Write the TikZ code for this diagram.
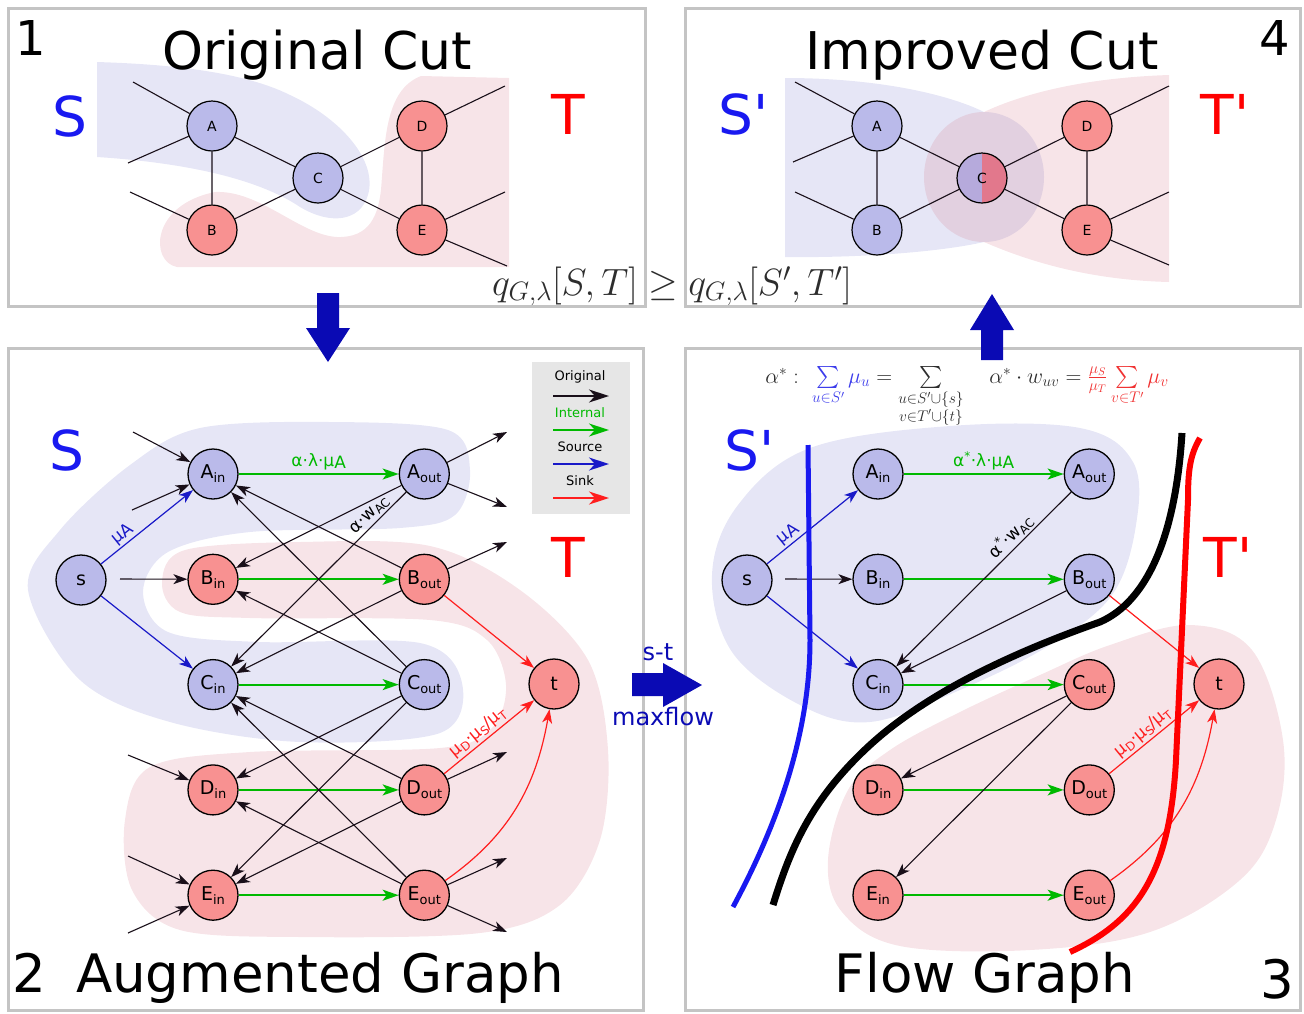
\RequirePackage{fix-cm}
\documentclass[tikz,border=0pt]{standalone}
\usepackage{amsmath,amssymb}
\usepackage[no-math]{fontspec}
\setmainfont{DejaVu Sans}[Ligatures=TeXOff]
\usepackage{tikz}
\usetikzlibrary{arrows.meta,positioning,calc}
\definecolor{nodeblue}{RGB}{186,186,234}
\definecolor{nodered}{RGB}{248,145,145}
\definecolor{sregion}{RGB}{230,230,246}
\definecolor{tregion}{RGB}{247,228,232}
\definecolor{overlap}{RGB}{226,208,224}
\definecolor{cleft}{RGB}{182,170,220}
\definecolor{cright}{RGB}{226,120,140}
\definecolor{framegray}{RGB}{196,196,196}
\definecolor{edgeblack}{RGB}{25,15,25}
\definecolor{intgreen}{RGB}{0,185,0}
\definecolor{srcblue}{RGB}{25,25,200}
\definecolor{sinkred}{RGB}{255,30,30}
\definecolor{setblue}{RGB}{25,25,240}
\definecolor{setred}{RGB}{255,0,0}
\definecolor{bigarrow}{RGB}{10,10,180}
\definecolor{legendbg}{RGB}{230,230,230}
\definecolor{mathgray}{RGB}{45,45,45}
\definecolor{sumblue}{RGB}{60,60,235}
\definecolor{sumred}{RGB}{240,50,50}
\newcommand{\io}[2]{#1\raisebox{-4pt}{\fontsize{13}{13}\selectfont #2}}
\newcommand{\lowsub}[1]{\raisebox{-3pt}{\fontsize{12}{12}\selectfont #1}}

\begin{document}
\begin{tikzpicture}[x=1pt, y=-1pt,
    vnode/.style={circle, draw, line width=1.3pt, minimum size=50pt, inner sep=0pt, font=\fontsize{19}{19}\selectfont},
    bnode/.style={vnode, fill=nodeblue},
    rnode/.style={vnode, fill=nodered},
    cnode/.style={circle, draw, line width=1.2pt, minimum size=50pt, inner sep=0pt, font=\fontsize{14}{14}\selectfont},
    orig/.style={-{Stealth[length=14pt,width=10pt,inset=4pt]}, line width=1.1pt, draw=edgeblack},
    intern/.style={-{Stealth[length=16pt,width=11pt,inset=4pt]}, line width=1.8pt, draw=intgreen},
    src/.style={-{Stealth[length=14pt,width=10pt,inset=4pt]}, line width=1.2pt, draw=srcblue},
    sink/.style={-{Stealth[length=14pt,width=10pt,inset=4pt]}, line width=1.2pt, draw=sinkred},
    legarrow/.style={-{Stealth[length=20pt,width=13pt,inset=6pt]}, line width=1.6pt},
    stub/.style={line width=1.1pt, draw=edgeblack},
    panel/.style={draw=framegray, line width=3pt},
    title/.style={font=\fontsize{52}{52}\selectfont, anchor=base},
    setlabel/.style={font=\fontsize{55}{55}\selectfont, anchor=base},
    elabel/.style={font=\fontsize{17}{17}\selectfont, sloped, above, inner sep=2pt},
    legtext/.style={font=\fontsize{13}{13}\selectfont}
  ]
  \useasboundingbox (0,0) rectangle (1304,1013);

  % frames
  \draw[panel] (8,8) rectangle (645,306);
  \draw[panel] (685,8) rectangle (1300,306);
  \draw[panel] (8,348) rectangle (643,1010);
  \draw[panel] (685,348) rectangle (1300,1010);

  % ---------- 1: original cut ----------
  \fill[sregion] (97,62) -- (97,157) .. controls (190,163) and (260,180) .. (300,207)
    .. controls (330,225) and (360,222) .. (368,195) .. controls (378,160) and (340,118) .. (290,95)
    .. controls (240,70) and (160,64) .. (97,62) -- cycle;
  \fill[tregion] (509,78) -- (509,267) -- (177,267) .. controls (150,262) and (150,205) .. (215,192)
    .. controls (260,190) and (300,235) .. (337,237) .. controls (370,238) and (378,215) .. (381,190)
    .. controls (385,140) and (385,90) .. (421,76) -- cycle;
  \node[title] (n1) at (31,55) {\fontsize{48}{48}\selectfont 1};
  \node[title] (t1) at (317,69) {Original Cut};
  \node[setlabel, text=setblue] (s1) at (70,136) {S};
  \node[setlabel, text=setred] (tt1) at (568,134) {T};
  \node[cnode, fill=nodeblue] (a1) at (212,126) {A};
  \node[cnode, fill=nodered] (b1) at (212,230) {B};
  \node[cnode, fill=nodeblue] (c1) at (318,178) {C};
  \node[cnode, fill=nodered] (d1) at (422,126) {D};
  \node[cnode, fill=nodered] (e1) at (422,230) {E};
  \coordinate (a1x) at (133,82);
  \coordinate (a1y) at (128,163);
  \coordinate (b1x) at (130,192);
  \coordinate (d1x) at (505,86);
  \coordinate (e1x) at (505,192);
  \coordinate (e1y) at (507,266);
  \draw[stub] (a1) -- (b1) (a1) -- (c1) (b1) -- (c1) (c1) -- (d1) (c1) -- (e1) (d1) -- (e1);
  \draw[stub] (a1) -- (a1x) (a1) -- (a1y) (b1) -- (b1x) (d1) -- (d1x) (e1) -- (e1x) (e1) -- (e1y);

  % ---------- 4: improved cut ----------
  \fill[sregion] (785,78) .. controls (880,78) and (950,95) .. (984,112) -- (984,242)
    .. controls (940,252) and (860,258) .. (785,257) -- cycle;
  \fill[tregion] (1169,75) .. controls (1080,78) and (1020,95) .. (984,112) -- (984,242)
    .. controls (1030,262) and (1090,280) .. (1169,282) -- cycle;
  \fill[overlap] (984,177) ellipse [x radius=60, y radius=65];
  \node[title] (n4) at (1275,55) {\fontsize{48}{48}\selectfont 4};
  \node[title] (t4) at (982,69) {Improved Cut};
  \node[setlabel, text=setblue] (s4) at (744,134) {S'};
  \node[setlabel, text=setred] (tt4) at (1225,134) {T'};
  \node[cnode, fill=nodeblue] (a4) at (877,126) {A};
  \node[cnode, fill=nodeblue] (b4) at (877,230) {B};
  \node[cnode, path picture={
      \fill[cleft] (path picture bounding box.south west) rectangle (path picture bounding box.north);
      \fill[cright] (path picture bounding box.south) rectangle (path picture bounding box.north east);
    }] (c4) at (982,178) {C};
  \node[cnode, fill=nodered] (d4) at (1087,126) {D};
  \node[cnode, fill=nodered] (e4) at (1087,230) {E};
  \coordinate (a4x) at (795,82);
  \coordinate (a4y) at (793,162);
  \coordinate (b4x) at (795,192);
  \coordinate (d4x) at (1169,86);
  \coordinate (e4x) at (1169,192);
  \coordinate (e4y) at (1169,265);
  \draw[stub] (a4) -- (b4) (a4) -- (c4) (b4) -- (c4) (c4) -- (d4) (c4) -- (e4) (d4) -- (e4);
  \draw[stub] (a4) -- (a4x) (a4) -- (a4y) (b4) -- (b4x) (d4) -- (d4x) (e4) -- (e4x) (e4) -- (e4y);

  \node[font=\fontsize{38}{38}\selectfont, text=mathgray, anchor=base] (qcmp) at (672,295)
    {$q_{G,\lambda}[S,T]\geq q_{G,\lambda}[S',T']$};

  % big arrows between panels
  \fill[bigarrow] (317,293) -- (339,293) -- (339,328) -- (350,328) -- (328,362) -- (306,328) -- (317,328) -- cycle;
  \fill[bigarrow] (981,360) -- (1003,360) -- (1003,330) -- (1014,330) -- (992,294) -- (970,330) -- (981,330) -- cycle;
  \fill[bigarrow] (632,673) -- (663,673) -- (663,663) -- (702,685) -- (663,707) -- (663,696) -- (632,696) -- cycle;
  \node[font=\fontsize{24}{24}\selectfont, text=bigarrow] (st) at (658,652) {s-t};
  \node[font=\fontsize{24}{24}\selectfont, text=bigarrow] (mf) at (663,717) {maxflow};

  % ---------- 2: augmented graph ----------
  \fill[sregion] plot[smooth cycle, tension=0.55] coordinates {(28,590) (60,530) (130,465) (200,428)
    (330,422) (448,430) (470,470) (455,515) (400,528) (250,532) (168,552) (143,592) (168,632)
    (260,642) (420,643) (462,683) (440,733) (300,742) (170,722) (80,680)};
  \fill[tregion] plot[smooth cycle, tension=0.55] coordinates {(162,582) (185,550) (300,542)
    (430,546) (520,590) (588,660) (608,750) (600,840) (560,905) (480,933) (300,937) (180,930)
    (132,890) (125,820) (150,767) (250,752) (440,748) (492,728) (506,685) (487,640) (430,620)
    (250,618) (180,612)};
  \node[title] (n2) at (29,992) {\fontsize{53}{53}\selectfont 2};
  \node[title, font=\fontsize{53}{53}\selectfont] (t2t) at (320,992) {Augmented Graph};
  \node[setlabel, text=setblue] (s2l) at (67,470) {S};
  \node[setlabel, text=setred] (t2l) at (568,577) {T};

  \node[fill=legendbg, minimum width=98pt, minimum height=152pt, inner sep=0pt] (legend) at (581,438) {};
  \node[legtext] (lo) at (580,377) {Original};
  \node[legtext, text=intgreen] (li) at (580,413) {Internal};
  \node[legtext] (ls) at (580,447) {Source};
  \node[legtext] (lk) at (580,481) {Sink};
  \draw[legarrow, edgeblack] (553,396) -- (609,396);
  \draw[legarrow, intgreen] (553,430) -- (609,430);
  \draw[legarrow, srcblue] (553,464) -- (609,464);
  \draw[legarrow, sinkred] (553,498) -- (609,498);

  \node[bnode] (s2) at (81,580) {s};
  \node[bnode] (ain2) at (213,474) {\io{A}{in}};
  \node[rnode, below=54pt of ain2] (bin2) {\io{B}{in}};
  \node[bnode, below=54pt of bin2] (cin2) {\io{C}{in}};
  \node[rnode, below=54pt of cin2] (din2) {\io{D}{in}};
  \node[rnode, below=54pt of din2] (ein2) {\io{E}{in}};
  \node[bnode, right=160pt of ain2] (aout2) {\io{A}{out}};
  \node[rnode, right=160pt of bin2] (bout2) {\io{B}{out}};
  \node[bnode, right=160pt of cin2] (cout2) {\io{C}{out}};
  \node[rnode, right=160pt of din2] (dout2) {\io{D}{out}};
  \node[rnode, right=160pt of ein2] (eout2) {\io{E}{out}};
  \node[rnode] (t2) at (554,684) {t};

  \coordinate (ain2x) at (133,432);
  \coordinate (ain2y) at (132,510);
  \coordinate (bin2x) at (120,579);
  \coordinate (din2x) at (128,755);
  \coordinate (ein2x) at (128,856);
  \coordinate (ein2y) at (128,933);
  \coordinate (aout2x) at (507,432);
  \coordinate (aout2y) at (507,507);
  \coordinate (bout2x) at (507,542);
  \coordinate (dout2x) at (507,752);
  \coordinate (eout2x) at (507,858);
  \coordinate (eout2y) at (507,932);

  \draw[intern] (ain2) -- node[above, font=\fontsize{17}{17}\selectfont, text=intgreen] {α·λ·μ\raisebox{-2pt}{A}} (aout2);
  \draw[intern] (bin2) -- (bout2);
  \draw[intern] (cin2) -- (cout2);
  \draw[intern] (din2) -- (dout2);
  \draw[intern] (ein2) -- (eout2);
  \draw[src] (s2) -- node[elabel, pos=0.3, text=srcblue] {μ\raisebox{-2pt}{A}} (ain2);
  \draw[src] (s2) -- (cin2);
  \draw[orig] (ain2x) -- (ain2);
  \draw[orig] (ain2y) -- (ain2);
  \draw[orig] (bin2x) -- (bin2);
  \draw[orig] (din2x) -- (din2);
  \draw[orig] (ein2x) -- (ein2);
  \draw[orig] (ein2y) -- (ein2);
  \draw[orig] (aout2) -- (aout2x);
  \draw[orig] (aout2) -- (aout2y);
  \draw[orig] (bout2) -- (bout2x);
  \draw[orig] (dout2) -- (dout2x);
  \draw[orig] (eout2) -- (eout2x);
  \draw[orig] (eout2) -- (eout2y);
  \draw[orig] (aout2) -- (bin2);
  \draw[orig] (bout2) -- (ain2);
  \draw[orig] (aout2) -- node[elabel, pos=0.17] {α·w\lowsub{AC}} (cin2);
  \draw[orig] (cout2) -- (ain2);
  \draw[orig] (bout2) -- (cin2);
  \draw[orig] (cout2) -- (bin2);
  \draw[orig] (cout2) -- (din2);
  \draw[orig] (dout2) -- (cin2);
  \draw[orig] (cout2) -- (ein2);
  \draw[orig] (eout2) -- (cin2);
  \draw[orig] (dout2) -- (ein2);
  \draw[orig] (eout2) -- (din2);
  \draw[sink] (bout2) -- (t2);
  \draw[sink] (dout2) -- node[elabel, pos=0.45, text=sinkred] {μ\lowsub{D}·μ\lowsub{S}/μ\lowsub{T}} (t2);
  \draw[sink] (eout2) to[out=35, in=-100] (t2);

  % ---------- 3: flow graph ----------
  \fill[sregion] plot[smooth cycle, tension=0.6] coordinates {(712,575) (738,505) (810,448)
    (950,426) (1080,428) (1133,462) (1136,525) (1112,595) (1050,645) (960,690) (870,722)
    (800,705) (732,652)};
  \fill[tregion] plot[smooth cycle, tension=0.6] coordinates {(828,860) (848,790) (890,750)
    (960,712) (1040,675) (1110,645) (1190,625) (1252,650) (1283,740) (1276,820) (1240,880)
    (1150,932) (1030,950) (900,946) (842,912)};
  \node[title] (n3) at (1277,998) {\fontsize{53}{53}\selectfont 3};
  \node[title, font=\fontsize{53}{53}\selectfont] (t3t) at (985,992) {Flow Graph};
  \node[setlabel, text=setblue] (s3l) at (750,470) {S'};
  \node[setlabel, text=setred] (t3l) at (1228,577) {T'};

  \node[font=\fontsize{22}{22}\selectfont, text=mathgray, anchor=base] (alphaeq) at (967,383)
    {$\alpha^*:\ {\color{sumblue}\sum\limits_{u\in S'}\mu_u} = \sum\limits_{\substack{u\in S'\cup\{s\}\\ v\in T'\cup\{t\}}}\quad \alpha^*\cdot w_{uv} = {\color{sumred}\frac{\mu_S}{\mu_T}\sum\limits_{v\in T'}\mu_v}$};

  \node[bnode] (s3) at (747,580) {s};
  \node[bnode] (ain3) at (878,474) {\io{A}{in}};
  \node[bnode, below=54pt of ain3] (bin3) {\io{B}{in}};
  \node[bnode, below=54pt of bin3] (cin3) {\io{C}{in}};
  \node[rnode, below=54pt of cin3] (din3) {\io{D}{in}};
  \node[rnode, below=54pt of din3] (ein3) {\io{E}{in}};
  \node[bnode, right=160pt of ain3] (aout3) {\io{A}{out}};
  \node[bnode, right=160pt of bin3] (bout3) {\io{B}{out}};
  \node[rnode, right=160pt of cin3] (cout3) {\io{C}{out}};
  \node[rnode, right=160pt of din3] (dout3) {\io{D}{out}};
  \node[rnode, right=160pt of ein3] (eout3) {\io{E}{out}};
  \node[rnode] (t3) at (1219,684) {t};
  \coordinate (bin3x) at (785,579);

  \draw[intern] (ain3) -- node[above, font=\fontsize{17}{17}\selectfont, text=intgreen] {α\textsuperscript{*}·λ·μ\raisebox{-2pt}{A}} (aout3);
  \draw[intern] (bin3) -- (bout3);
  \draw[intern] (cin3) -- (cout3);
  \draw[intern] (din3) -- (dout3);
  \draw[intern] (ein3) -- (eout3);
  \draw[src] (s3) -- node[elabel, pos=0.3, text=srcblue] {μ\raisebox{-2pt}{A}} (ain3);
  \draw[src] (s3) -- (cin3);
  \draw[orig] (bin3x) -- (bin3);
  \draw[orig] (aout3) -- node[elabel, pos=0.3] {α\textsuperscript{*}·w\lowsub{AC}} (cin3);
  \draw[orig] (bout3) -- (cin3);
  \draw[orig] (cout3) -- (din3);
  \draw[orig] (cout3) -- (ein3);
  \draw[sink] (bout3) -- (t3);
  \draw[sink] (dout3) -- node[elabel, pos=0.45, text=sinkred] {μ\lowsub{D}·μ\lowsub{S}/μ\lowsub{T}} (t3);
  \draw[sink] (eout3) to[out=35, in=-100] (t3);

  % cuts
  \draw[setblue, line width=5pt] (808,445) -- (810,640) .. controls (810,730) and (780,820) .. (733,907);
  \draw[black, line width=7pt] (1182,433) .. controls (1176,530) and (1150,600) .. (1100,622)
    .. controls (1020,650) and (930,690) .. (870,745) .. controls (810,800) and (790,850) .. (773,905);
  \draw[setred, line width=6pt] (1200,438) .. controls (1190,455) and (1188,470) .. (1188,500)
    -- (1176,760) .. controls (1170,870) and (1140,920) .. (1070,952);
\end{tikzpicture}
\end{document}
